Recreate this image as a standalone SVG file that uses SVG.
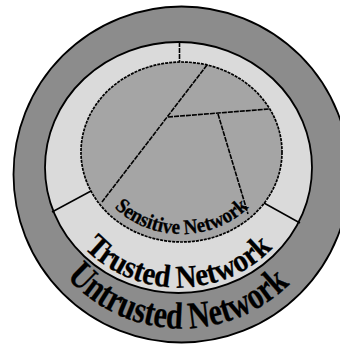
<svg xmlns="http://www.w3.org/2000/svg" width="340" height="344" viewBox="0 0 340 344">
<style>
.ring{stroke:#000;stroke-width:1.8}
.lbl{font-family:"Liberation Serif","Times New Roman",serif;font-weight:bold;fill:#000;stroke:#000;stroke-width:0.3}
.solid{stroke:#000;stroke-width:1.5;fill:none}
.dash{stroke:#000;stroke-width:1.6;fill:none;stroke-dasharray:5 1}
</style>
<defs>
<path id="pU" d="M 27.5 174.5 A 154 154 0 0 0 335.5 174.5"/>
<path id="pT" d="M 51.5 167.5 A 127 120 0 0 0 305.5 167.5"/>
<path id="pS" d="M 90.5 152 A 91 82 0 0 0 272.5 152"/>
</defs>
<rect width="340" height="344" fill="#fff"/>
<g id="untrusted">
<circle class="ring" cx="181.5" cy="174.5" r="168" fill="#8c8c8c"/>
<text class="lbl" font-size="38"><textPath href="#pU" startOffset="49%" text-anchor="middle" textLength="250" lengthAdjust="spacingAndGlyphs">Untrusted Network</textPath></text>
</g>
<g id="trusted">
<ellipse class="ring" cx="178.5" cy="167.5" rx="133.5" ry="125.5" fill="#dadada"/>
<text class="lbl" font-size="32"><textPath href="#pT" startOffset="50%" text-anchor="middle" textLength="210" lengthAdjust="spacingAndGlyphs">Trusted Network</textPath></text>
</g>
<g id="sensitive">
<ellipse cx="181.5" cy="152" rx="100.5" ry="90" fill="#a5a5a5" stroke="#000" stroke-width="1.7" stroke-dasharray="3 1"/>
<text class="lbl" font-size="21"><textPath href="#pS" startOffset="50%" text-anchor="middle" textLength="148" lengthAdjust="spacingAndGlyphs">Sensitive Network</textPath></text>
</g>
<g id="connectors">
<line class="dash" x1="179.5" y1="42" x2="179.5" y2="62"/>
<line class="dash" x1="207" y1="65" x2="102" y2="202"/>
<line class="dash" x1="168" y1="117" x2="269" y2="109"/>
<line class="dash" x1="218" y1="114" x2="248" y2="214"/>
<line class="solid" x1="52" y1="212" x2="91" y2="191"/>
<line class="solid" x1="264" y1="203" x2="300" y2="223"/>
</g>
</svg>
